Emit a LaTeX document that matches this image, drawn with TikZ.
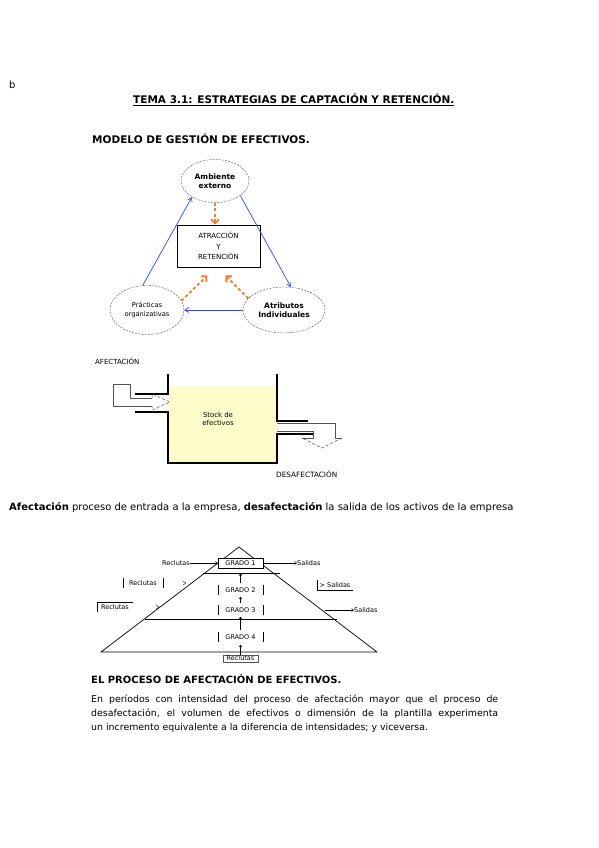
\documentclass[tikz,border=0pt]{standalone}
\usepackage{fontspec}
\setmainfont{DejaVu Sans}
\usepackage{tikz}
\usetikzlibrary{shapes.geometric, arrows.meta, positioning, calc}
\definecolor{azul}{HTML}{2B4DE0}
\definecolor{naranja}{HTML}{F57C1F}
\definecolor{crema}{HTML}{FFFCCB}
\definecolor{gris}{HTML}{555555}
\tikzset{
  texto/.style={anchor=base west, inner sep=0pt, font=\fontsize{10}{14}\selectfont},
  titulo/.style={texto, font=\fontsize{10}{14}\selectfont\bfseries},
  parrafo/.style={texto, font=\fontsize{9.4}{14}\selectfont},
  rotulo/.style={inner sep=0pt, font=\fontsize{6.5}{8}\selectfont},
  elipse/.style={ellipse, draw=gris, dash pattern=on 2pt off 1.2pt,
    minimum width=70pt, minimum height=44pt, align=center,
    font=\fontsize{6.7}{8.5}\selectfont},
  flecha/.style={-{Straight Barb[length=4pt,width=5pt]}, azul, line width=0.7pt},
  flujo/.style={-{Straight Barb[length=4pt,width=8pt]}, naranja, line width=1.8pt,
    dash pattern=on 3pt off 2.5pt},
  pared/.style={line width=1.6pt, line cap=rect},
  contorno/.style={gris, line width=0.5pt},
  flechita/.style={-{Straight Barb[length=2pt,width=3pt]}, line width=0.5pt}
}

\begin{document}
\begin{tikzpicture}[x=1pt, y=-1pt,
  grado/.style={rotulo, minimum width=45pt, minimum height=9pt},
  linea/.style={line width=0.7pt}]
  \useasboundingbox[fill=white] (0,0) rectangle (599,848);

  % --- Encabezado ---
  \node[texto] (letra) at (9,89) {b};
  \node[titulo, font=\fontsize{10.5}{14}\selectfont\bfseries] (tema) at (133,104)
    {\underline{TEMA 3.1: ESTRATEGIAS DE CAPTACIÓN Y RETENCIÓN.}};
  \node[titulo, font=\fontsize{10.5}{14}\selectfont\bfseries] (modelo) at (92,143) {MODELO DE GESTIÓN DE EFECTIVOS.};

  % --- Modelo de gestión ---
  \node[elipse, minimum width=68pt, minimum height=43pt,
    font=\fontsize{7.5}{9}\selectfont\bfseries] (amb) at (215,181) {Ambiente\\externo};
  \node[elipse, minimum width=74pt, minimum height=49pt] (pra) at (147,310) {Prácticas\\organizativas};
  \node[elipse, minimum width=74pt, minimum height=46pt,
    font=\fontsize{7.5}{9}\selectfont\bfseries] (att) at (284,310) {Atributos\\Individuales};
  \node[draw, line width=0.9pt, minimum width=83pt, minimum height=42pt, align=center,
    font=\fontsize{7}{10.5}\selectfont] (atr) at (218.5,246) {ATRACCIÓN\\Y\\RETENCIÓN};

  \draw[flecha] (pra.100) -- (amb.215);
  \draw[flecha] (amb.330) -- (att.73);
  \draw[flecha] (att.west) -- (pra.east);
  \draw[flujo] (amb.south) -- (amb.south |- atr.north);
  \draw[flujo] (pra.15) -- ([xshift=-11pt, yshift=-8pt]atr.south);
  \draw[flujo] (att.162) -- ([xshift=7pt, yshift=-8pt]atr.south);

  % --- Depósito de efectivos ---
  \node[rotulo, anchor=west, font=\fontsize{7}{8}\selectfont] (afec) at (95,361) {AFECTACIÓN};
  \fill[crema] (168,386) rectangle (277,463);
  \draw[pared] (168,375) -- (168,394) -- (136,394);
  \draw[pared] (136,412) -- (168,412) -- (168,463) -- (277,463) -- (277,434) -- (313,434);
  \draw[pared] (307,421) -- (277,421) -- (277,375);
  % entrada
  \draw[contorno] (152,398) -- (130,398) -- (130,384) -- (113,384) -- (113,406) -- (152,406);
  \draw[contorno, densely dashed] (152,398) -- (152,394) -- (170,402) -- (152,410) -- (152,406);
  % salida
  \draw[contorno] (277,423) -- (335,423) -- (335,438) -- (342,438);
  \draw[contorno] (277,431) -- (313,431) -- (313,438) -- (302,438);
  \draw[contorno, densely dashed] (342,438) -- (322,448) -- (302,438);
  \node[rotulo, align=center, font=\fontsize{6.9}{8.5}\selectfont] (stock) at (218,419) {Stock de\\efectivos};
  \node[rotulo, anchor=west, font=\fontsize{7.3}{8}\selectfont] (desaf) at (276,474) {DESAFECTACIÓN};

  \node[texto] (afectacion) at (9,510) {\textbf{Afectación} proceso de entrada a la empresa, \textbf{desafectación} la salida de los activos de la empresa};

  % --- Pirámide de grados ---
  \coordinate (cima) at (239,547);
  \coordinate (izq) at (101,652);
  \coordinate (der) at (377,652);
  \draw[linea] (izq) -- (cima) -- (der) -- cycle;
  \draw[linea] (203,573) -- (280,573);
  \draw[linea] (145,619) -- (337,619);

  \node[grado, draw, fill=white, minimum height=10pt] (g1) at (240.5,563) {GRADO 1};
  \node[grado] (g2) at (240.5,590) {GRADO 2};
  \node[grado] (g3) at (240.5,610) {GRADO 3};
  \node[grado] (g4) at (240.5,637) {GRADO 4};
  \foreach \g in {g2,g3,g4} {
    \draw (\g.north west) -- (\g.south west);
    \draw (\g.north east) -- (\g.south east);
  }
  \draw[flechita, shorten <=2pt, shorten >=5pt] (g2) -- (g1);
  \draw[flechita, shorten <=2pt, shorten >=2pt] (g3) -- (g2);
  \draw[flechita, shorten <=2pt, shorten >=2pt] (g4) -- (g3);

  % entradas y salidas
  \node[rotulo, anchor=east] (rec1) at (190,563) {Reclutas};
  \node[rotulo, anchor=west] (sal1) at (297,563) {Salidas};
  \draw[flechita] (rec1) -- (g1);
  \draw[flechita] (g1) -- (sal1);

  \node[rotulo, minimum width=40pt, minimum height=9pt] (rec2) at (143,583) {Reclutas};
  \draw (rec2.north west) -- (rec2.south west);
  \draw (rec2.north east) -- (rec2.south east);
  \node[rotulo, minimum width=36pt, minimum height=10pt] (sal2) at (335,585) {> Salidas};
  \draw (sal2.north west) -- (sal2.south west) -- (sal2.south east);

  \node[rotulo, minimum width=36pt, minimum height=10pt] (rec3) at (115,607) {Reclutas};
  \draw (rec3.south west) -- (rec3.north west) -- (rec3.north east);
  \node[rotulo, anchor=west] (sal3) at (354,610) {Salidas};
  \coordinate (ini3) at (325,610);
  \draw[flechita] (ini3) -- (sal3);

  \draw (183,581) -- (186,583) -- (183,585);
  \draw (156,605) -- (159,607) -- (156,609);

  \node[rotulo, draw=gris, minimum width=35pt, minimum height=7pt] (rec4) at (240.5,658.5) {Reclutas};
  \draw[flechita, shorten >=3pt] (rec4) -- (g4);

  % --- Proceso de afectación ---
  \node[titulo] (proceso) at (91,683) {EL PROCESO DE AFECTACIÓN DE EFECTIVOS.};
  \node[parrafo] (lin1) at (91,702) {\makebox[407pt][s]{En períodos con intensidad del proceso de afectación mayor que el proceso de}};
  \node[parrafo] (lin2) at (91,716) {\makebox[407pt][s]{desafectación, el volumen de efectivos o dimensión de la plantilla experimenta}};
  \node[parrafo] (lin3) at (91,730) {un incremento equivalente a la diferencia de intensidades; y viceversa.};

\end{tikzpicture}
\end{document}
